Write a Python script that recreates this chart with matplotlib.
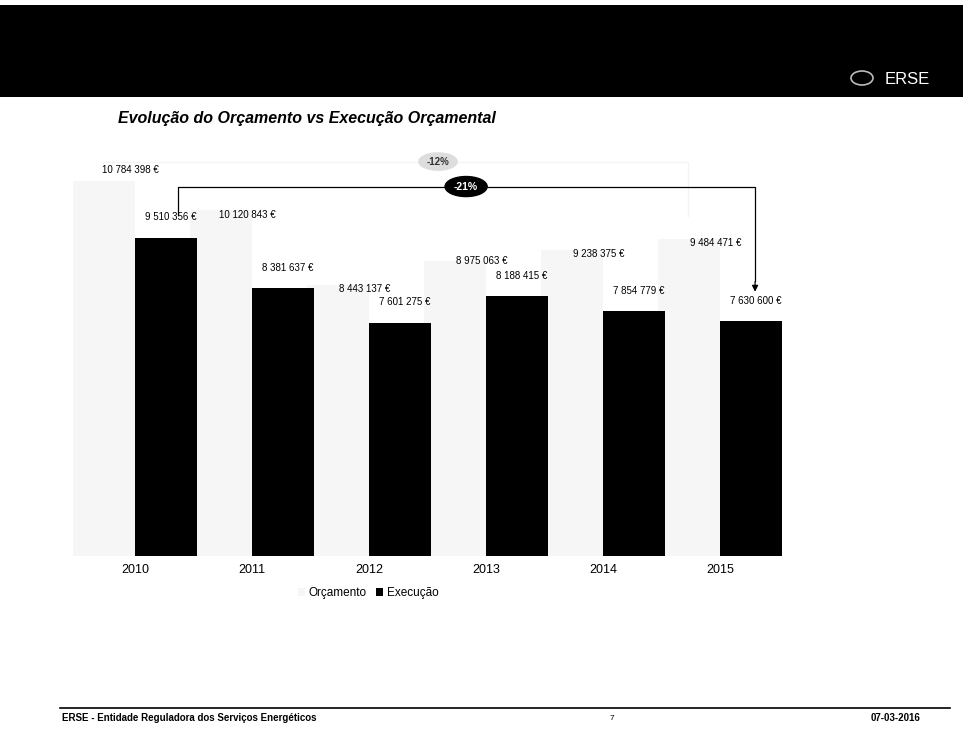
import matplotlib
matplotlib.use("Agg")
import matplotlib.pyplot as plt
from matplotlib.patches import Rectangle, Ellipse
import numpy as np

plt.rcParams['font.family'] = ['Liberation Sans', 'DejaVu Sans']

years = ["2010", "2011", "2012", "2013", "2014", "2015"]
orcamento = [10784398, 10120843, 8443137, 8975063, 9238375, 9484471]
execucao = [9510356, 8381637, 7601275, 8188415, 7854779, 7630600]
series_names = ["Orçamento", "Execução"]
pct_labels = ["-12%", "-21%"]

def fmt(v):
    return f"{v:,}".replace(",", " ") + " €"

W, H = 963, 737
fig = plt.figure(figsize=(W / 100, H / 100), dpi=100)

# top banner
fig.patches.append(Rectangle((0, 1 - 97 / H), 1, 92 / H, transform=fig.transFigure,
                             facecolor="black", edgecolor="none", zorder=0))
fig.text(930 / W, 1 - 80 / H, "ERSE", color="white", fontsize=12, ha="right", va="center")
fig.patches.append(Ellipse((862 / W, 1 - 78 / H), 22 / W, 14 / H, transform=fig.transFigure,
                           facecolor="none", edgecolor="#bbbbbb", lw=1.2))

fig.text(118 / W, 1 - 118 / H, "Evolução do Orçamento vs Execução Orçamental",
         fontsize=11.5, fontweight="bold", fontstyle="italic", ha="left", va="center")

# chart axes
left_px, right_px, top_px, bot_px = 60, 800, 140, 556
ax = fig.add_axes([left_px / W, 1 - bot_px / H, (right_px - left_px) / W, (bot_px - top_px) / H])
x = np.arange(len(years))
bw = 0.53
ax.bar(x - bw / 2, orcamento, width=bw, color="#f6f6f6", label=series_names[0], zorder=2)
ax.bar(x + bw / 2, execucao, width=bw, color="black", label=series_names[1], zorder=2)
ax.set_xlim(-0.641, 5.684)
ax.set_ylim(2.36e6, 11.7e6)
for s in ax.spines.values():
    s.set_visible(False)
ax.set_yticks([])
ax.set_xticks(x)
ax.set_xticklabels(years, fontsize=9)
ax.tick_params(axis="x", length=0, pad=6)

orc_label_dy = [8, -3, -3, 0, -3, -3]
for i in range(len(years)):
    ax.annotate(fmt(orcamento[i]), (x[i] - 0.04, orcamento[i]), xytext=(0, orc_label_dy[i]),
                textcoords="offset points", ha="center", va="center", fontsize=7, zorder=6)
    ax.annotate(fmt(execucao[i]), (x[i] + bw / 2 + 0.04, execucao[i]), xytext=(0, 11),
                textcoords="offset points", ha="center", va="bottom", fontsize=7, zorder=6)

# -21% bracket arrow (black)
y_line = orcamento[0] * 0.988
x_start = x[0] + 0.37
x_end = x[-1] + 0.30
ax.plot([x_start, x_start, x_end, x_end], [execucao[0] + 0.5e6, y_line, y_line, execucao[-1] + 0.9e6],
        color="black", lw=0.9, zorder=3, clip_on=False)
ax.annotate("", xy=(x_end, execucao[-1] + 0.6e6), xytext=(x_end, execucao[-1] + 0.95e6),
            arrowprops=dict(arrowstyle="-|>", color="black", lw=0.9, mutation_scale=9))
xm = 2.83
ax.add_patch(Ellipse((xm, y_line), 0.36, 0.45e6, facecolor="black", edgecolor="black", zorder=4, clip_on=False))
ax.text(xm, y_line, pct_labels[1], color="white", fontsize=7.5, fontweight="bold",
        ha="center", va="center", zorder=5)

# -12% (light grey, nearly invisible in the scan)
y_line2 = orcamento[0] * 1.04
ax.plot([x[0] - 0.27, x[0] - 0.27, x[-1] - 0.27, x[-1] - 0.27],
        [orcamento[0] + 0.4e6, y_line2, y_line2, orcamento[-1] + 0.5e6],
        color="#f4f4f4", lw=0.9, zorder=1, clip_on=False)
xm2 = 2.59
ax.add_patch(Ellipse((xm2, y_line2), 0.34, 0.42e6, facecolor="#dddddd", edgecolor="none", zorder=4, clip_on=False))
ax.text(xm2, y_line2, pct_labels[0], color="#333333", fontsize=7, fontweight="bold",
        ha="center", va="center", zorder=5)

fig.legend(handles=ax.get_legend_handles_labels()[0], labels=series_names, loc="center",
           bbox_to_anchor=(368 / W, 1 - 593 / H), ncol=2, frameon=False, fontsize=8.5,
           handlelength=0.6, handleheight=0.6, columnspacing=0.8, handletextpad=0.3)

# footer
fig.add_artist(plt.Line2D([60 / W, 950 / W], [1 - 708 / H, 1 - 708 / H], color="black", lw=1.2,
                          transform=fig.transFigure))
fig.text(62 / W, 1 - 718 / H, "ERSE - Entidade Reguladora dos Serviços Energéticos",
         fontsize=7, fontweight="bold", ha="left", va="center")
fig.text(612 / W, 1 - 718 / H, "7", fontsize=6, ha="center", va="center")
fig.text(920 / W, 1 - 718 / H, "07-03-2016", fontsize=7, fontweight="bold", ha="right", va="center")

fig.savefig("out.png", dpi=100)
